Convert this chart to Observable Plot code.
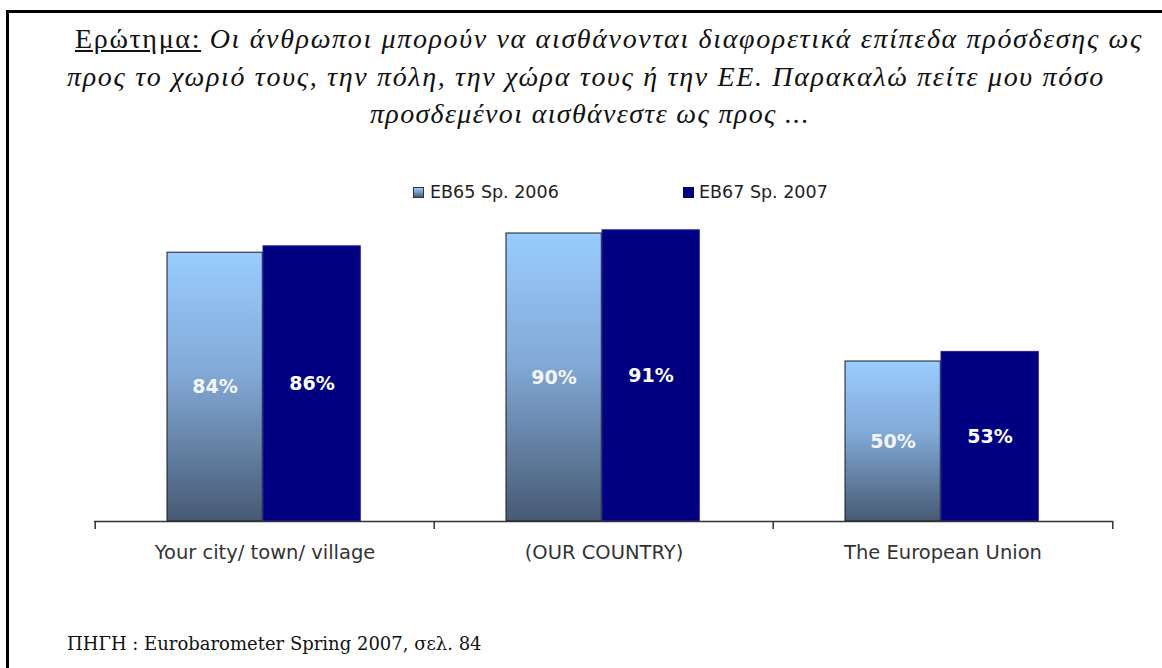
<!DOCTYPE html>
<html>
<head>
<meta charset="utf-8">
<script src="https://cdn.jsdelivr.net/npm/d3@7"></script>
<script src="https://cdn.jsdelivr.net/npm/@observablehq/plot@0.6"></script>
<style>
  html, body { margin: 0; padding: 0; background: #fff; }
  body { width: 1162px; height: 668px; position: relative; overflow: hidden; }
  #frame { position: absolute; left: 6px; top: 10px; width: 1300px; height: 800px;
           border-top: 3px solid #000; border-left: 3px solid #000; box-sizing: border-box; }
  .tline { position: absolute; white-space: nowrap;
           font-family: "Liberation Serif", serif; font-style: italic; font-size: 28px; color: #111; line-height: 30px; }
  .tline u { font-style: normal; }
  #legend { position: absolute; top: 181px; left: 0; width: 1162px; height: 22px;
            font-family: "DejaVu Sans", sans-serif; font-size: 17.5px; color: #222; }
  .sw { position: absolute; top: 6px; width: 9px; height: 9px; border: 1px solid #333; }
  .lt { position: absolute; top: 0; line-height: 22px; white-space: nowrap; }
  #chart { position: absolute; left: 0; top: 195px; }
  #caption { position: absolute; left: 67px; top: 633px; font-family: "DejaVu Serif", serif;
             font-size: 18px; color: #111; white-space: nowrap; }
</style>
</head>
<body>
<div id="frame"></div>
<div class="tline" id="t1" style="top:24px;"><u>Ερώτημα:</u> Οι άνθρωποι μπορούν να αισθάνονται διαφορετικά επίπεδα πρόσδεσης ως</div>
<div class="tline" id="t2" style="top:62px;">προς το χωριό τους, την πόλη, την χώρα τους ή την ΕΕ. Παρακαλώ πείτε μου πόσο</div>
<div class="tline" id="t3" style="top:99px;">προσδεμένοι αισθάνεστε ως προς ...</div>
<div id="legend"></div>
<div id="chart"></div>
<div id="caption">ΠΗΓΗ : Eurobarometer Spring 2007, σελ. 84</div>
<script>
// ---- data ----
const categories = ["Your city/ town/ village", "(OUR COUNTRY)", "The European Union"];
const seriesNames = ["EB65 Sp. 2006", "EB67 Sp. 2007"];
const eb65 = [84, 90, 50];
const eb67 = [86, 91, 53];

const rows65 = categories.map((c, i) => ({category: c, series: seriesNames[0], value: eb65[i]}));
const rows67 = categories.map((c, i) => ({category: c, series: seriesNames[1], value: eb67[i]}));

// ---- title line fitting (left edge, target width) ----
function fitLine(id, left, targetW) {
  const el = document.getElementById(id);
  el.style.left = left + "px";
  const w = el.getBoundingClientRect().width;
  const n = el.textContent.length;
  el.style.letterSpacing = ((targetW - w) / n) + "px";
}
function centerLine(id, cx, targetW) {
  const el = document.getElementById(id);
  const w0 = el.getBoundingClientRect().width;
  const n = el.textContent.length;
  el.style.letterSpacing = ((targetW - w0) / n) + "px";
  const w = el.getBoundingClientRect().width;
  el.style.left = (cx - w / 2) + "px";
}
fitLine("t1", 75, 1068);
fitLine("t2", 67, 1038);
centerLine("t3", 590, 440);

// ---- legend ----
const legend = document.getElementById("legend");
legend.innerHTML =
  `<div class="sw" style="left:413px;background:linear-gradient(#99ccff,#4a5d78);"></div>` +
  `<div class="lt" style="left:430px;">${seriesNames[0]}</div>` +
  `<div class="sw" style="left:683px;background:#000080;border-color:#000060;"></div>` +
  `<div class="lt" style="left:699px;">${seriesNames[1]}</div>`;

// ---- chart ----
const chart = Plot.plot({
  width: 1162,
  height: 375,
  marginLeft: 94,
  marginRight: 49,
  marginTop: 6,
  marginBottom: 49,
  style: {fontFamily: "'DejaVu Sans', sans-serif", fontSize: "19.5px", color: "#333", background: "transparent"},
  x: {domain: categories, padding: 0, tickSize: 0, tickPadding: 24, label: null},
  y: {domain: [0, 100], axis: null},
  marks: [
    Plot.barY(rows65, {x: "category", y: "value", fill: "url(#g65)", stroke: "#1a1a1a", strokeWidth: 1,
                       insetLeft: 72, insetRight: 171.7}),
    Plot.barY(rows67, {x: "category", y: "value", fill: "#000080", stroke: "#23239a", strokeWidth: 1,
                       insetLeft: 168, insetRight: 73.7}),
    Plot.text(rows65, {x: "category", y: d => d.value / 2, text: d => d.value + "%", dx: -50,
                       fill: "#f4f6fa", fontWeight: "bold", fontSize: 19}),
    Plot.text(rows67, {x: "category", y: d => d.value / 2, text: d => d.value + "%", dx: 47,
                       fill: "#ffffff", fontWeight: "bold", fontSize: 19}),
    Plot.ruleY([0], {stroke: "#333", strokeWidth: 1.5}),
    Plot.ruleX(categories, {x: d => d, y1: 0, y2: 0, insetBottom: -8, dx: -169.8, stroke: "#333", strokeWidth: 1.5}),
    Plot.ruleX(categories.slice(-1), {x: d => d, y1: 0, y2: 0, insetBottom: -8, dx: 169.8, stroke: "#333", strokeWidth: 1.5})
  ]
});

// gradient definition for the 2006 bars
const ns = "http://www.w3.org/2000/svg";
const defs = document.createElementNS(ns, "defs");
const grad = document.createElementNS(ns, "linearGradient");
grad.setAttribute("id", "g65");
grad.setAttribute("x1", "0"); grad.setAttribute("y1", "0");
grad.setAttribute("x2", "0"); grad.setAttribute("y2", "1");
[["0%", "#99ccff"], ["45%", "#82a9d6"], ["100%", "#475a73"]].forEach(([o, c]) => {
  const s = document.createElementNS(ns, "stop");
  s.setAttribute("offset", o); s.setAttribute("stop-color", c);
  grad.appendChild(s);
});
defs.appendChild(grad);
chart.insertBefore(defs, chart.firstChild);

document.getElementById("chart").appendChild(chart);
</script>
</body>
</html>
